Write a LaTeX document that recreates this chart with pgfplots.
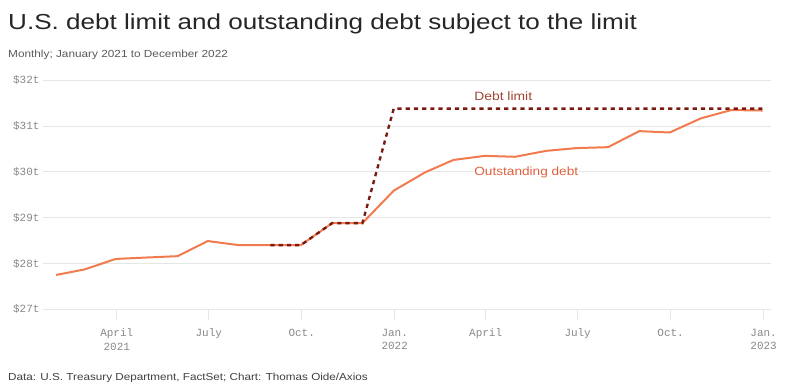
\documentclass[border=0pt]{standalone}
\usepackage{pgfplots}
\pgfplotsset{compat=1.18}
\usepackage{fontspec}
\setmainfont{Liberation Sans}
\newfontfamily\tickfont{Liberation Mono}
\newfontfamily\widefont[FakeStretch=1.15]{Liberation Sans}
\newfontfamily\titlefont[FakeStretch=1.2]{Liberation Sans}
\definecolor{debtorange}{HTML}{F27A4F}
\definecolor{limitred}{HTML}{7A1A10}
\definecolor{limitlabel}{HTML}{A04535}
\definecolor{outlabel}{HTML}{E0603F}
\definecolor{ticktext}{HTML}{888888}
\definecolor{gridc}{HTML}{E6E6E6}
\begin{document}
\begin{tikzpicture}
\path[use as bounding box] (0bp,0bp) rectangle (800bp,389bp);
\node[anchor=base west, inner sep=0, font=\titlefont\fontsize{21.8}{24}\selectfont, text=black!85] at (8bp,359.7bp) {U.S. debt limit and outstanding debt subject to the limit};
\node[anchor=base west, inner sep=0, font=\widefont\fontsize{10.3}{12}\selectfont, text=black!65] at (8bp,331.7bp) {Monthly; January 2021 to December 2022};
\node[anchor=base west, inner sep=0, font=\widefont\fontsize{10.2}{12}\selectfont, text=black!75] at (8bp,9bp) {Data: U.S. Treasury Department, FactSet; Chart: Thomas Oide/Axios};
\begin{axis}[
  at={(43bp,308.7bp)}, anchor=north west, scale only axis,
  width=727.7bp, height=229bp,
  xmin=17, xmax=737, ymin=27, ymax=32,
  clip=false,
  axis line style={draw=none},
  ymajorgrids, major grid style={color=gridc, line width=0.9bp},
  ytick={27,28,29,30,31,32},
  yticklabels={\$27t,\$28t,\$29t,\$30t,\$31t,\$32t},
  ytick style={draw=none},
  xtick={90,181,273,365,455,546,638,730},
  xticklabels={April\\2021,July,Oct.,Jan.\\2022,April,July,Oct.,Jan.\\2023},
  xtick pos=left, tick align=outside, major tick length=11bp,
  xtick style={color=gridc, line width=0.9bp},
  ticklabel style={font=\tickfont\fontsize{11}{14}\selectfont, text=ticktext},
  xticklabel style={align=center, yshift=-5bp},
  yticklabel style={xshift=11bp},
]
\addplot[debtorange, line width=2bp, line join=round] coordinates {
(30,27.75) (58,27.87) (89,28.10) (119,28.13) (150,28.16) (180,28.49)
(211,28.40) (242,28.40) (272,28.40) (303,28.88) (333,28.88) (364,29.59)
(395,29.99) (423,30.26) (454,30.35) (484,30.33) (515,30.46) (545,30.52)
(576,30.54) (607,30.89) (637,30.86) (668,31.17) (698,31.35) (729,31.34)
};
\addplot[limitred, line width=2.4bp, dash pattern=on 4.2bp off 4bp] coordinates {
(242,28.40) (272,28.40) (303,28.88) (333,28.88) (364,31.38) (729,31.38)
};
\node[anchor=west, inner sep=0, font=\widefont\fontsize{12.1}{14}\selectfont, text=limitlabel] at (axis cs:443.6,31.66) {Debt limit};
\node[anchor=west, inner sep=1bp, fill=white, font=\widefont\fontsize{11.9}{14}\selectfont, text=outlabel] at (axis cs:442.6,29.98) {Outstanding debt};
\end{axis}
\end{tikzpicture}
\end{document}
